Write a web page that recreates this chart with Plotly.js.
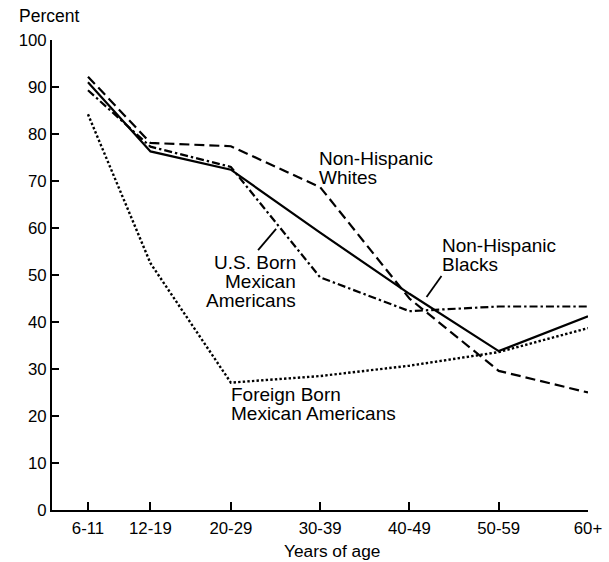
<!DOCTYPE html>
<html>
<head>
<meta charset="utf-8">
<script src="https://cdn.plot.ly/plotly-3.0.1.min.js"></script>
<style>
  html, body { margin: 0; padding: 0; background: #ffffff; }
  #chart { width: 609px; height: 562px; }
</style>
</head>
<body>
<div id="chart"></div>
<script>
// Age groups and their mid-point ages (the axis is spaced by age)
const ageGroups = ['6-11', '12-19', '20-29', '30-39', '40-49', '50-59', '60+'];
const ageMid = [8.5, 15.5, 24.5, 34.5, 44.5, 54.5, 64.5];

// Percent
const nonHispanicWhites = [92.2, 78.1, 77.4, 68.7, 45.0, 29.6, 25.0];
const nonHispanicBlacks = [91.0, 76.3, 72.4, 59.0, 46.0, 33.8, 41.2];
const usBornMexicanAmericans = [89.3, 77.3, 73.0, 49.5, 42.3, 43.3, 43.3];
const foreignBornMexicanAmericans = [84.2, 52.5, 27.1, 28.5, 30.7, 33.6, 38.7];

const yTicks = [0, 10, 20, 30, 40, 50, 60, 70, 80, 90, 100];

const FONT = 'Liberation Sans, Arial, Helvetica, sans-serif';

function series(name, values, dash, width) {
  return {
    type: 'scatter', mode: 'lines', name: name,
    x: ageMid, y: values,
    line: { color: '#000000', width: width, dash: dash },
    hoverinfo: 'skip'
  };
}

const data = [
  series('Non-Hispanic Whites', nonHispanicWhites, '10px,5px', 2.2),
  series('Non-Hispanic Blacks', nonHispanicBlacks, 'solid', 2.2),
  series('U.S. Born Mexican Americans', usBornMexicanAmericans, '8px,3px,2.4px,3px', 2.2),
  series('Foreign Born Mexican Americans', foreignBornMexicanAmericans, '2.4px,2.2px', 2.4)
];

function label(text, x, y, anchor) {
  return {
    text: text, x: x, y: y, xref: 'x', yref: 'y',
    xanchor: anchor, yanchor: 'middle', showarrow: false,
    align: anchor, borderpad: 0,
    font: { family: FONT, size: 19, color: '#000000' }
  };
}

const layout = {
  width: 609, height: 562,
  paper_bgcolor: '#ffffff', plot_bgcolor: '#ffffff',
  margin: { l: 52, r: 21, t: 40, b: 52, pad: 0 },
  showlegend: false,
  font: { family: FONT, color: '#000000' },
  xaxis: {
    range: [4.47, 64.5],
    tickmode: 'array', tickvals: ageMid, ticktext: ageGroups,
    ticks: 'inside', ticklen: 8, tickwidth: 2, tickcolor: '#000000',
    ticklabelstandoff: 2,
    showline: true, linecolor: '#000000', linewidth: 2,
    showgrid: false, zeroline: false,
    tickfont: { family: FONT, size: 16.8, color: '#000000' },
    fixedrange: true
  },
  yaxis: {
    range: [0, 100],
    tickmode: 'array', tickvals: yTicks,
    ticks: 'inside', ticklen: 7, tickwidth: 2, tickcolor: '#000000',
    showline: true, linecolor: '#000000', linewidth: 2,
    showgrid: false, zeroline: false,
    tickfont: { family: FONT, size: 16.8, color: '#000000' },
    fixedrange: true
  },
  annotations: [
    { text: 'Percent', xref: 'paper', yref: 'paper', x: -0.0634, y: 1.0506,
      xanchor: 'left', yanchor: 'middle', showarrow: false, borderpad: 0,
      font: { family: FONT, size: 17.5, color: '#000000' } },
    { text: 'Years of age', xref: 'paper', yref: 'paper', x: 0.5233, y: -0.0864,
      xanchor: 'center', yanchor: 'middle', showarrow: false, borderpad: 0,
      font: { family: FONT, size: 17.3, color: '#000000' } },
    label('Non-Hispanic', 34.26, 74.85, 'left'),
    label('Whites', 34.26, 70.81, 'left'),
    label('Non-Hispanic', 48.07, 56.38, 'left'),
    label('Blacks', 48.07, 52.34, 'left'),
    label('U.S. Born', 31.87, 52.62, 'right'),
    label('Mexican', 31.87, 48.57, 'right'),
    label('Americans', 31.87, 44.53, 'right'),
    label('Foreign Born', 24.41, 24.47, 'left'),
    label('Mexican Americans', 24.41, 20.43, 'left')
  ],
  shapes: [
    { type: 'line', xref: 'x', yref: 'y', x0: 27.55, y0: 55.3, x1: 29.57, y1: 59.8,
      line: { color: '#000000', width: 1.8 } },
    { type: 'line', xref: 'x', yref: 'y', x0: 48.09, y0: 49.8, x1: 46.42, y1: 45.3,
      line: { color: '#000000', width: 1.8 } }
  ]
};

Plotly.newPlot('chart', data, layout, { displayModeBar: false, staticPlot: true });
</script>
</body>
</html>
